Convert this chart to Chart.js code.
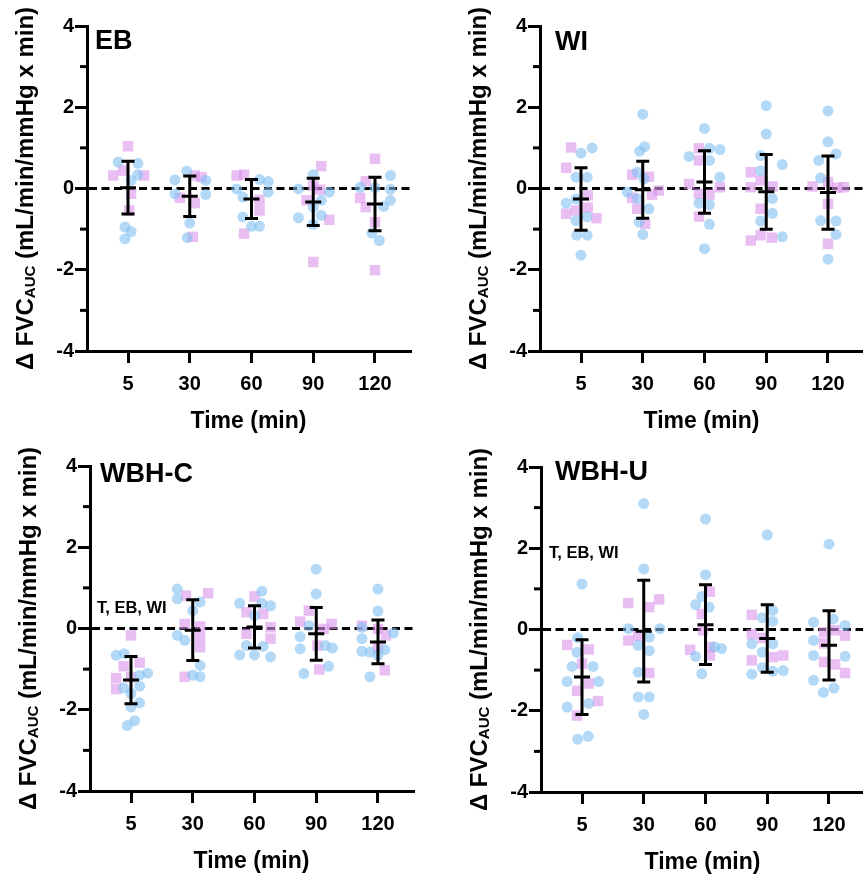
<!DOCTYPE html>
<html><head><meta charset="utf-8">
<script src="https://cdn.jsdelivr.net/npm/chart.js@4/dist/chart.umd.min.js"></script>
<style>
html,body{margin:0;padding:0;background:#fff;overflow:hidden;width:863px;height:878px;position:relative;}
canvas{position:absolute;}
</style></head><body>
<canvas id="cEB" width="440" height="440" style="left:0px;top:0px"></canvas>
<canvas id="cWI" width="440" height="440" style="left:453px;top:0px"></canvas>
<canvas id="cWBHC" width="440" height="440" style="left:3px;top:440px"></canvas>
<canvas id="cWBHU" width="440" height="440" style="left:454px;top:441px"></canvas>
<script>
// ---------- texts ----------
const timeLabels = ['5', '30', '60', '90', '120'];
const xTitleText = 'Time (min)';
const yTitleMain = 'Δ FVC';
const yTitleSub = 'AUC';
const yTitleRest = ' (mL/min/mmHg x min)';
const panelNames = ['EB', 'WI', 'WBH-C', 'WBH-U'];
const noteText = 'T, EB, WI';

// ---------- EB ----------
const ebBlueY = [[0.65,0.62,0.34,0.2,-0.95,-1.06,-1.24],[0.21,0.43,0.2,-0.13,-0.15,-0.85,-1.21],[-0.01,0.22,0.17,-0.09,-0.21,-0.7,-0.93,-0.93],[-0.01,0.34,-0.09,-0.29,-0.46,-0.66,-0.72,-0.88],[0.32,0.03,0.02,-0.02,-0.29,-0.44,-1.1,-1.28]];
const ebBlueDx = [[-0.16,0.16,0.16,0.05,-0.05,0.05,-0.05],[-0.24,-0.05,0.26,-0.24,0.26,0,-0.04],[-0.24,0.13,0.27,0.27,-0.14,-0.14,0,0.13],[-0.24,0,0.26,0.13,0,0.13,-0.24,0],[0.25,-0.24,0,0.25,0.25,0.14,-0.05,0.07]];
const ebPinkY = [[1.04,0.32,0.44,0.32,-0.13,-0.54],[0.32,0.28,-0.23,-0.36,-1.19],[0.32,0.34,-0.28,-0.54,-1.11],[0.55,0.07,-0.29,-0.77,-1.81,-0.03],[0.73,0.18,-0.23,-0.46,-0.83,-2.01]];
const ebPinkDx = [[0,-0.24,-0.08,0.26,0.05,0.02],[0.08,0.19,-0.16,0.08,0.05],[-0.24,-0.12,0.13,0.13,-0.12],[0.13,0,-0.11,0.26,0,0.11],[0,-0.15,-0.24,-0.15,0,0]];
const ebMean = [0.02,-0.19,-0.26,-0.33,-0.38];
const ebSD = [0.65,0.5,0.48,0.58,0.66];

// ---------- WI ----------
const wiBlueY = [[0.87,1.0,0.28,0.28,-0.36,-0.26,-0.79,-0.7,-1.15,-1.15,-1.64],[1.83,1.03,0.92,0.4,0.24,-0.09,-0.25,-0.5,-0.83,-1.13],[1.48,0.79,0.99,0.96,0.69,0.28,-0.36,-0.4,-0.88,-1.48],[2.04,1.34,0.59,0.81,0.44,-0.25,-0.61,-0.8,-1.19],[1.91,1.15,0.85,0.69,0.26,-0.79,-0.8,-1.13,-1.74]];
const wiBlueDx = [[0,0.18,-0.08,0.1,-0.24,-0.08,-0.08,0.1,-0.07,0.1,0],[0,0.03,-0.05,-0.09,0.02,-0.25,-0.09,0.1,-0.06,0],[0,-0.25,0.08,0.25,0.08,0.25,-0.09,0.08,0.08,0],[0,0,0.26,-0.09,-0.09,0.1,0.1,-0.09,0.26],[0,0,0.13,-0.15,-0.12,-0.12,0.13,0.13,0]];
const wiPinkY = [[1.01,0.51,-0.62,-0.54,-0.47,-0.73,-0.17],[0.34,0.29,-0.05,-0.15,-0.23,-0.5,-0.87],[0.99,0.69,0.11,-0.13,-0.15,0.03,-0.69],[0.4,0.2,0.05,0.03,-0.5,-1.28,-1.15,-1.21],[0.05,0.16,0.02,0.03,-0.38,-1.36]];
const wiPinkDx = [[-0.16,-0.24,-0.24,-0.08,0.11,0.25,0.11],[-0.17,0.1,0.26,0.15,-0.17,-0.09,0.04],[-0.09,-0.09,-0.25,-0.09,0.08,0.25,-0.09],[-0.25,-0.09,0.1,-0.25,-0.09,-0.25,-0.09,0.09],[-0.25,0,0.15,0.26,0,0]];
const wiMean = [-0.26,-0.03,0.16,-0.08,-0.1];
const wiSD = [0.77,0.7,0.77,0.92,0.9];

// ---------- WBH-C ----------
const wcBlueY = [[-0.66,-0.62,-1.15,-1.1,-1.46,-1.6,-1.42,-1.83,-1.93,-2.27,-2.39],[0.97,0.73,0.65,0.44,-0.17,-0.29,-0.91,-1.15,-1.19],[0.62,0.92,0.62,0.56,0.32,-0.42,-0.44,-0.65,-0.65,-0.7],[1.46,0.85,0.07,-0.2,-0.5,-0.42,-0.48,-0.93,-1.11],[0.97,0.43,0.03,-0.11,-0.25,-0.56,-0.58,-0.52,-0.66,-1.19]];
const wcBlueDx = [[-0.24,-0.11,0.14,0.27,-0.12,0,0.14,0.14,0,0.06,-0.06],[-0.25,-0.25,0.12,0,-0.25,-0.13,0.12,0,0.12],[-0.24,0.12,0.12,0.26,0,-0.13,0.14,-0.24,0,0.26],[0,0,-0.12,-0.26,-0.26,0.15,0.26,0.2,-0.2],[0,0,-0.26,0.25,-0.26,-0.26,-0.13,0.11,0,-0.13]];
const wcPinkY = [[-0.17,-0.93,-0.84,-1.22,-1.49,-1.2],[0.81,0.87,0.11,0.05,-0.21,-0.46,-1.19],[0.79,0.4,0.36,0.03,-0.13,-0.25],[0.17,0.44,0.11,-0.01,-0.42,-1.01],[0.07,-0.01,-0.17,-0.46,-1.03]];
const wcPinkDx = [[0,-0.12,0.14,-0.24,-0.24,0],[-0.11,0.25,-0.13,0.12,0.12,0.12,-0.13],[0,-0.13,0.14,0.26,-0.13,0.26],[-0.26,-0.12,0.25,0.12,0.02,0.05],[-0.26,0,0.13,0,0.11]];
const wcMean = [-1.27,-0.04,0.04,-0.13,-0.33];
const wcSD = [0.58,0.75,0.52,0.65,0.54];

// ---------- WBH-U ----------
const wuBlueY = [[1.12,-0.2,-0.56,-0.91,-0.91,-1.28,-1.28,-1.82,-1.91,-2.7,-2.63],[3.1,1.49,0.02,0.02,-0.19,-0.39,-0.52,-1.05,-1.66,-1.66,-2.09],[2.72,1.35,0.81,0.61,0.55,-0.43,-0.47,-0.66,-1.09],[2.33,0.47,0.29,0.2,-0.35,-0.56,-0.35,-1.1,-0.94,-1.01,-1.03],[2.1,0.18,0.26,0.1,-0.27,-0.64,-0.66,-1.25,-1.55,-1.44]];
const wuBlueDx = [[0,-0.07,-0.08,-0.16,0.18,-0.24,0.27,0.11,-0.24,-0.07,0.1],[0,0,-0.25,0.26,0.09,-0.09,0.09,-0.09,-0.09,0.09,0],[0,0,-0.06,-0.16,0.06,0.15,0.26,-0.16,-0.06],[0,0.09,-0.08,0.09,-0.25,-0.08,0.09,-0.25,-0.08,0.26,0.09],[0,-0.25,0.07,0.26,-0.25,-0.25,0.26,-0.25,-0.09,0.08]];
const wuPinkY = [[-0.38,-0.84,-1.33,-0.49,-1.51,-1.76,-2.12],[0.65,0.55,0.74,-0.27,-0.16,-1.07],[0.93,0.38,-0.02,-0.5,-0.43,-0.64],[0.36,-0.12,-0.21,-0.68,-0.64,-0.76],[-0.07,-0.02,-0.15,-0.34,-0.8,-0.86,-1.07]];
const wuPinkDx = [[-0.24,0,0.11,0.11,-0.08,0.26,-0.08],[-0.25,0.09,0.25,-0.25,-0.09,0.09],[0.07,-0.06,-0.04,-0.25,0.07,0.07],[-0.25,-0.25,-0.08,0.09,0.26,-0.25],[-0.08,0.1,0.26,-0.08,-0.08,0.1,0.26]];
const wuMean = [-1.17,-0.04,0.12,-0.22,-0.39];
const wuSD = [0.92,1.25,0.98,0.83,0.85];

// ---------- styling ----------
const FONT = "'Liberation Sans', Arial, Helvetica, sans-serif";
const BLUE = 'rgba(128,192,242,0.6)';
const PINK = 'rgba(217,147,235,0.6)';
Chart.defaults.font.family = FONT;
Chart.defaults.color = '#000';

function toPoints(ys, dxs) {
  const pts = [];
  ys.forEach((arr, i) => arr.forEach((v, j) => pts.push({x: i + dxs[i][j], y: v})));
  return pts;
}

const decoPlugin = {
  id: 'deco',
  beforeDatasetsDraw(chart, args, o) {
    const {ctx, chartArea} = chart;
    const y0 = chart.scales.y.getPixelForValue(0);
    ctx.save();
    ctx.strokeStyle = '#000';
    ctx.lineWidth = 3;
    ctx.setLineDash([8, 4.5]);
    ctx.beginPath();
    ctx.moveTo(chartArea.left + 2, y0);
    ctx.lineTo(chartArea.right + 4, y0);
    ctx.stroke();
    ctx.restore();
  },
  afterDatasetsDraw(chart, args, o) {
    const {ctx} = chart;
    const xs = chart.scales.x, ys = chart.scales.y;
    ctx.save();
    ctx.strokeStyle = '#000';
    ctx.lineWidth = 3;
    ctx.lineCap = 'butt';
    o.mean.forEach((m, i) => {
      const x = xs.getPixelForValue(i);
      const yt = ys.getPixelForValue(m + o.sd[i]);
      const yb = ys.getPixelForValue(m - o.sd[i]);
      const ym = ys.getPixelForValue(m);
      ctx.beginPath();
      ctx.moveTo(x, yt); ctx.lineTo(x, yb);
      ctx.moveTo(x - 6.5, yt); ctx.lineTo(x + 6.5, yt);
      ctx.moveTo(x - 6.5, yb); ctx.lineTo(x + 6.5, yb);
      ctx.moveTo(x - 8, ym); ctx.lineTo(x + 8, ym);
      ctx.stroke();
    });
    ctx.restore();
  },
  afterDraw(chart, args, o) {
    const {ctx, chartArea} = chart;
    const ys = chart.scales.y;
    ctx.save();
    // minor y ticks
    ctx.strokeStyle = '#000';
    ctx.lineWidth = 3;
    ys.ticks.filter(t => Math.abs(t.value) % 2 === 1).forEach(t => {
      const y = ys.getPixelForValue(t.value);
      ctx.beginPath();
      ctx.moveTo(chartArea.left - 7, y);
      ctx.lineTo(chartArea.left, y);
      ctx.stroke();
    });
    // y title with subscript
    const midY = (chartArea.top + chartArea.bottom) / 2;
    ctx.translate(33, midY);
    ctx.rotate(-Math.PI / 2);
    ctx.fillStyle = '#000';
    ctx.textBaseline = 'alphabetic';
    ctx.textAlign = 'left';
    const fMain = 'bold 24px ' + FONT, fSub = 'bold 15px ' + FONT;
    ctx.font = fMain;
    const w1 = ctx.measureText(yTitleMain).width;
    const w3 = ctx.measureText(yTitleRest).width;
    ctx.font = fSub;
    const w2 = ctx.measureText(yTitleSub).width;
    let u = -(w1 + w2 + w3) / 2;
    ctx.font = fMain; ctx.fillText(yTitleMain, u, 0); u += w1;
    ctx.font = fSub; ctx.fillText(yTitleSub, u, 2); u += w2;
    ctx.font = fMain; ctx.fillText(yTitleRest, u, 0);
    ctx.restore();
    // panel name and note
    ctx.save();
    ctx.fillStyle = '#000';
    ctx.textAlign = 'left';
    ctx.textBaseline = 'alphabetic';
    ctx.font = 'bold 27px ' + FONT;
    ctx.fillText(o.name, chartArea.left + o.nameDx, chartArea.top + o.nameDy);
    if (o.note) {
      ctx.font = 'bold 16.5px ' + FONT;
      ctx.fillText(o.note, chartArea.left + o.noteDx, chartArea.top + o.noteDy);
    }
    ctx.restore();
  }
};

function makeChart(id, blueY, blueDx, pinkY, pinkDx, mean, sd, deco) {
  return new Chart(document.getElementById(id), {
    type: 'scatter',
    data: {
      datasets: [
        {data: toPoints(blueY, blueDx), pointStyle: 'circle', pointRadius: 5.5, backgroundColor: BLUE, borderWidth: 0},
        {data: toPoints(pinkY, pinkDx), pointStyle: 'rect', pointRadius: 7.4, backgroundColor: PINK, borderWidth: 0}
      ]
    },
    options: {
      responsive: false,
      animation: false,
      devicePixelRatio: 1,
      layout: {padding: {top: 26, right: 30, bottom: 0, left: 0}},
      plugins: {
        legend: {display: false},
        tooltip: {enabled: false},
        deco: Object.assign({mean, sd}, deco)
      },
      scales: {
        x: {
          type: 'linear',
          min: -0.664,
          max: 4.567,
          afterBuildTicks: s => { s.ticks = timeLabels.map((t, i) => ({value: i})); },
          afterFit: s => { s.height = 89; },
          ticks: {
            callback: v => timeLabels[v],
            font: {size: 20, weight: 'bold'},
            padding: 9,
            color: '#000',
            maxRotation: 0,
            autoSkip: false
          },
          grid: {drawOnChartArea: false, drawTicks: true, tickLength: 12, color: '#000', lineWidth: 3},
          border: {display: true, color: '#000', width: 3},
          title: {display: true, text: xTitleText, font: {size: 23, weight: 'bold'}, color: '#000', padding: {top: 0, bottom: 5}}
        },
        y: {
          min: -4,
          max: 4,
          afterFit: s => { s.width = 87; },
          ticks: {
            stepSize: 1,
            callback: v => (v % 2 === 0 ? String(v) : ''),
            font: {size: 20, weight: 'bold'},
            padding: 1,
            color: '#000'
          },
          grid: {
            drawOnChartArea: false,
            drawTicks: true,
            tickLength: 12,
            lineWidth: 3,
            color: c => (c.tick && Math.abs(c.tick.value) % 2 === 1 ? 'rgba(0,0,0,0)' : '#000')
          },
          border: {display: true, color: '#000', width: 3}
        }
      }
    },
    plugins: [decoPlugin]
  });
}

makeChart('cEB', ebBlueY, ebBlueDx, ebPinkY, ebPinkDx, ebMean, ebSD, {name: panelNames[0], nameDx: 8, nameDy: 23});
makeChart('cWI', wiBlueY, wiBlueDx, wiPinkY, wiPinkDx, wiMean, wiSD, {name: panelNames[1], nameDx: 15, nameDy: 24});
makeChart('cWBHC', wcBlueY, wcBlueDx, wcPinkY, wcPinkDx, wcMean, wcSD, {name: panelNames[2], nameDx: 10, nameDy: 16, note: noteText, noteDx: 7, noteDy: 147});
makeChart('cWBHU', wuBlueY, wuBlueDx, wuPinkY, wuPinkDx, wuMean, wuSD, {name: panelNames[3], nameDx: 14, nameDy: 13, note: noteText, noteDx: 8, noteDy: 91});
</script>
</body></html>
